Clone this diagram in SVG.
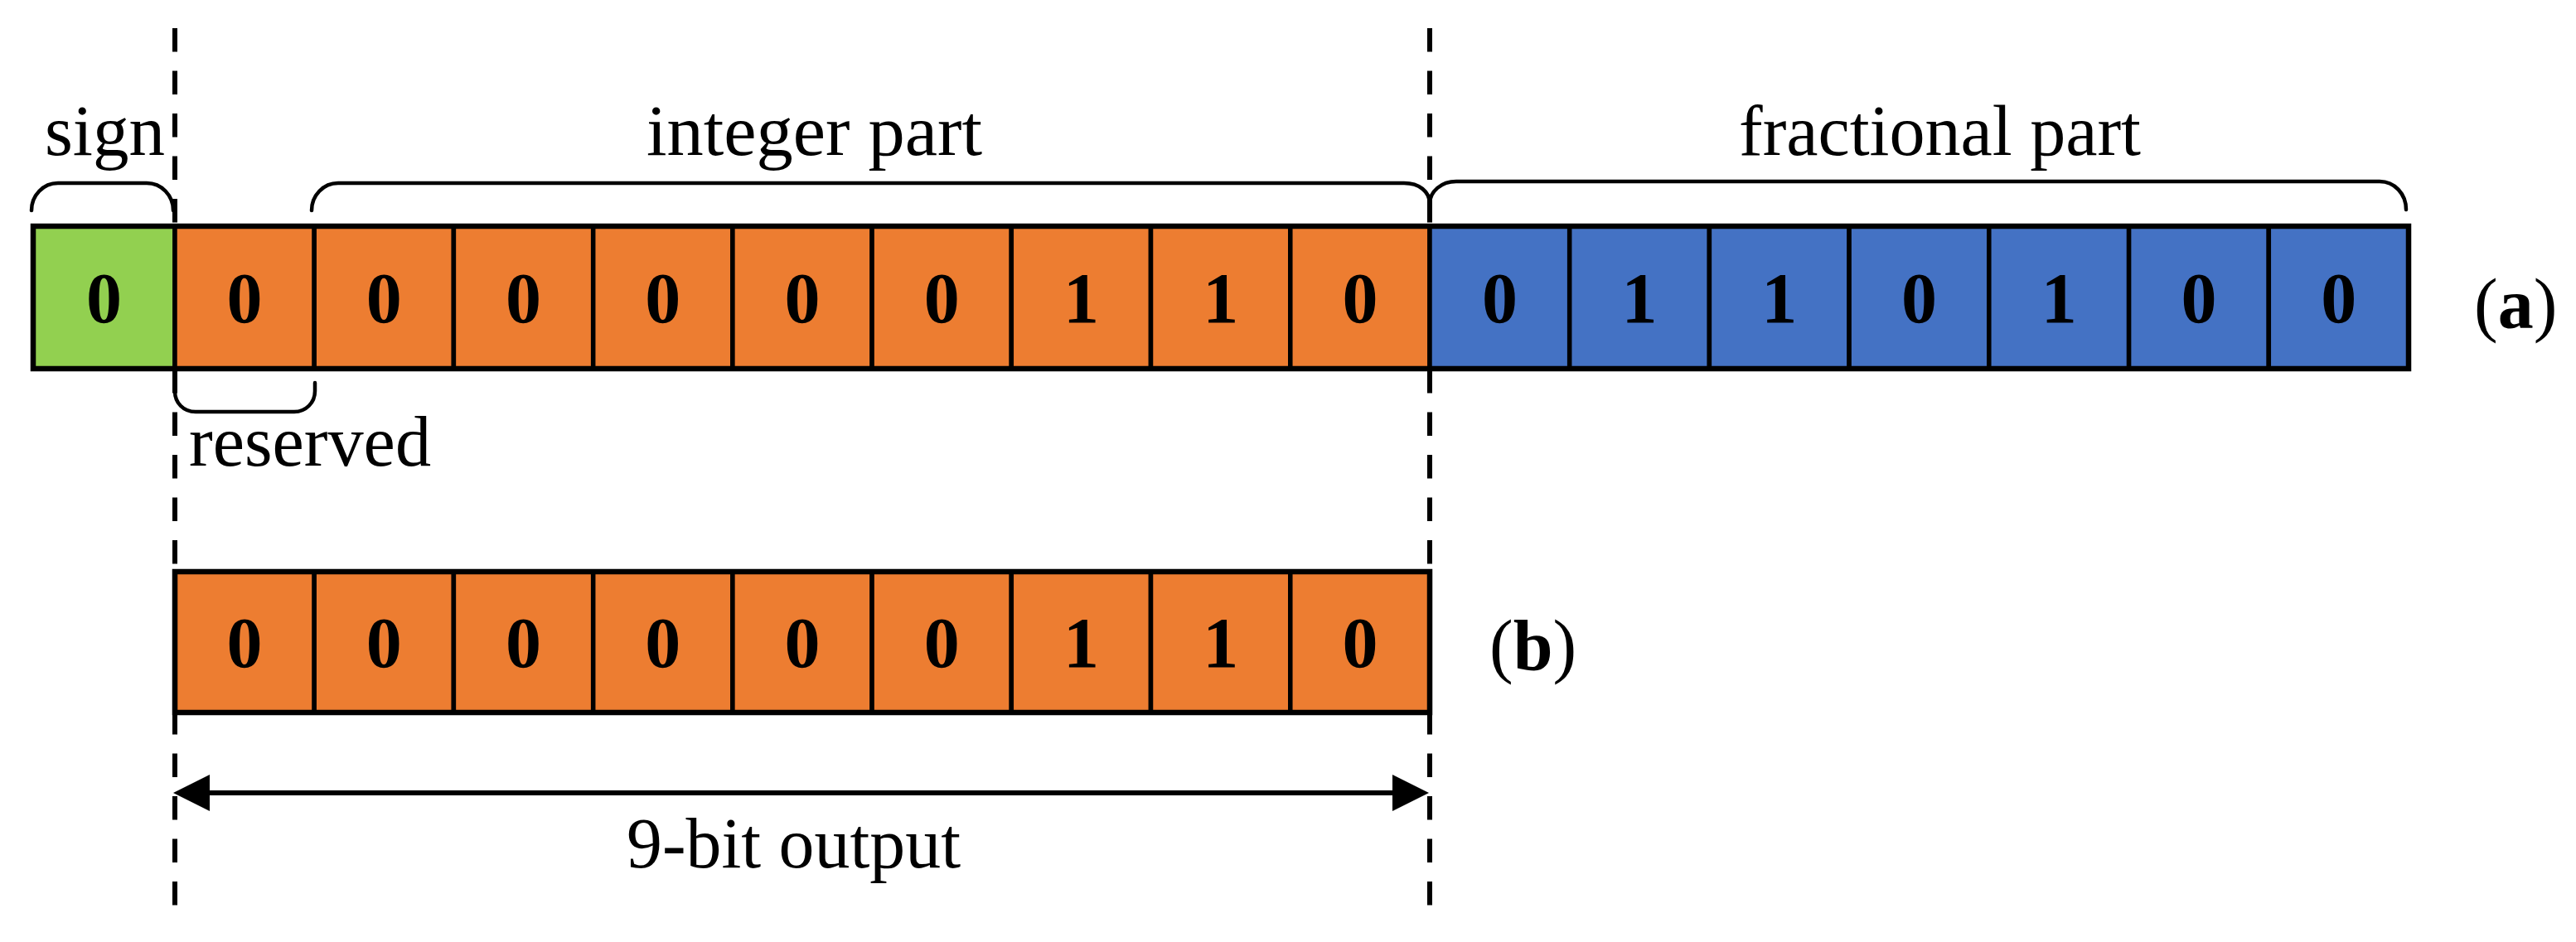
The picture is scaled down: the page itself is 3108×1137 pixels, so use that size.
<svg xmlns="http://www.w3.org/2000/svg" width="3108" height="1137" viewBox="0 0 3108 1137">
<style>
.bg{fill:#fff}
.cell{stroke:#000;stroke-width:5.5}
.g{fill:#92D050}
.o{fill:#ED7D31}
.b{fill:#4472C4}
.frame{fill:none;stroke:#000;stroke-width:6.5}
.d{font-family:"Liberation Serif",serif;font-weight:bold;font-size:86px;text-anchor:middle;fill:#000}
.t{font-family:"Liberation Serif",serif;font-size:86px;fill:#000}
.dash{stroke:#000;stroke-width:6;stroke-dasharray:28.5 23;fill:none}
.br{fill:none;stroke:#000;stroke-width:4.5;stroke-linecap:round}
.arr{stroke:#000;stroke-width:6;fill:none;marker-start:url(#ah);marker-end:url(#ah)}
</style>
<defs>
<marker id="ah" markerUnits="userSpaceOnUse" viewBox="0 0 44 44" refX="0" refY="22" markerWidth="44" markerHeight="44" orient="auto-start-reverse">
<path d="M0,0 L44,22 L0,44 Z" fill="#000"/>
</marker>
</defs>
<rect class="bg" x="0" y="0" width="3108" height="1137"/>

<g id="guides">
<line class="dash" x1="211" y1="34" x2="211" y2="1095"/>
<line class="dash" x1="1725" y1="34" x2="1725" y2="1095"/>
</g>

<g id="row-a">
<g id="a-sign"><rect class="cell g" x="40" y="273" width="171" height="172"/><text class="d" x="125.5" y="389">0</text></g>
<g id="a-i0"><rect class="cell o" x="211" y="273" width="168.2" height="172"/><text class="d" x="295.1" y="389">0</text></g>
<g id="a-i1"><rect class="cell o" x="379.2" y="273" width="168.2" height="172"/><text class="d" x="463.3" y="389">0</text></g>
<g id="a-i2"><rect class="cell o" x="547.4" y="273" width="168.3" height="172"/><text class="d" x="631.6" y="389">0</text></g>
<g id="a-i3"><rect class="cell o" x="715.7" y="273" width="168.2" height="172"/><text class="d" x="799.8" y="389">0</text></g>
<g id="a-i4"><rect class="cell o" x="883.9" y="273" width="168.2" height="172"/><text class="d" x="968" y="389">0</text></g>
<g id="a-i5"><rect class="cell o" x="1052.1" y="273" width="168.2" height="172"/><text class="d" x="1136.2" y="389">0</text></g>
<g id="a-i6"><rect class="cell o" x="1220.3" y="273" width="168.2" height="172"/><text class="d" x="1304.4" y="389">1</text></g>
<g id="a-i7"><rect class="cell o" x="1388.5" y="273" width="168.3" height="172"/><text class="d" x="1472.7" y="389">1</text></g>
<g id="a-i8"><rect class="cell o" x="1556.8" y="273" width="168.2" height="172"/><text class="d" x="1640.9" y="389">0</text></g>
<g id="a-f0"><rect class="cell b" x="1725" y="273" width="168.7" height="172"/><text class="d" x="1809.4" y="389">0</text></g>
<g id="a-f1"><rect class="cell b" x="1893.7" y="273" width="168.7" height="172"/><text class="d" x="1978.1" y="389">1</text></g>
<g id="a-f2"><rect class="cell b" x="2062.4" y="273" width="168.7" height="172"/><text class="d" x="2146.8" y="389">1</text></g>
<g id="a-f3"><rect class="cell b" x="2231.1" y="273" width="168.7" height="172"/><text class="d" x="2315.5" y="389">0</text></g>
<g id="a-f4"><rect class="cell b" x="2399.8" y="273" width="168.8" height="172"/><text class="d" x="2484.2" y="389">1</text></g>
<g id="a-f5"><rect class="cell b" x="2568.6" y="273" width="168.7" height="172"/><text class="d" x="2652.9" y="389">0</text></g>
<g id="a-f6"><rect class="cell b" x="2737.3" y="273" width="168.7" height="172"/><text class="d" x="2821.7" y="389">0</text></g>
<rect class="frame" x="40" y="273" width="2866" height="172"/>
</g>

<g id="row-b">
<g id="b-0"><rect class="cell o" x="211" y="690" width="168.2" height="170"/><text class="d" x="295.1" y="805">0</text></g>
<g id="b-1"><rect class="cell o" x="379.2" y="690" width="168.2" height="170"/><text class="d" x="463.3" y="805">0</text></g>
<g id="b-2"><rect class="cell o" x="547.4" y="690" width="168.3" height="170"/><text class="d" x="631.6" y="805">0</text></g>
<g id="b-3"><rect class="cell o" x="715.7" y="690" width="168.2" height="170"/><text class="d" x="799.8" y="805">0</text></g>
<g id="b-4"><rect class="cell o" x="883.9" y="690" width="168.2" height="170"/><text class="d" x="968" y="805">0</text></g>
<g id="b-5"><rect class="cell o" x="1052.1" y="690" width="168.2" height="170"/><text class="d" x="1136.2" y="805">0</text></g>
<g id="b-6"><rect class="cell o" x="1220.3" y="690" width="168.2" height="170"/><text class="d" x="1304.4" y="805">1</text></g>
<g id="b-7"><rect class="cell o" x="1388.5" y="690" width="168.3" height="170"/><text class="d" x="1472.7" y="805">1</text></g>
<g id="b-8"><rect class="cell o" x="1556.8" y="690" width="168.2" height="170"/><text class="d" x="1640.9" y="805">0</text></g>
<rect class="frame" x="211" y="690" width="1514" height="170"/>
</g>

<g id="brackets">
<path class="br" d="M38,254 C38,236 52,221 70,221 H177 C195,221 209,236 209,254"/>
<path class="br" d="M376,254 C376,236 390,221 408,221 H1694 C1712,221 1725,231 1725,246"/>
<path class="br" d="M1725,246 C1725,231 1739,219 1757,219 H2871 C2889,219 2903,234 2903,253"/>
<path class="br" d="M211,446 V472 C211,486 221,497 236,497 H355 C369,497 380,486 380,472 V462"/>
</g>

<g id="connectors">
<line class="arr" x1="253" y1="957" x2="1680" y2="957"/>
</g>

<g id="labels">
<text class="t" x="54" y="187" textLength="145" lengthAdjust="spacingAndGlyphs">sign</text>
<text class="t" x="780" y="187" textLength="405" lengthAdjust="spacingAndGlyphs">integer part</text>
<text class="t" x="2098" y="187" textLength="485" lengthAdjust="spacingAndGlyphs">fractional part</text>
<text class="t" x="228" y="562" textLength="292" lengthAdjust="spacingAndGlyphs">reserved</text>
<text class="t" x="756" y="1047" textLength="403" lengthAdjust="spacingAndGlyphs">9-bit output</text>
<text class="t" x="2985" y="396" font-size="92">(<tspan font-weight="bold">a</tspan>)</text>
<text class="t" x="1797" y="808" font-size="92">(<tspan font-weight="bold">b</tspan>)</text>
</g>
</svg>
